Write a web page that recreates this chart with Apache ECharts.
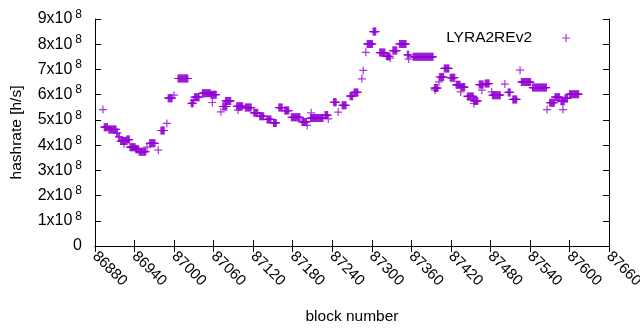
<!DOCTYPE html>
<html>
<head>
<meta charset="utf-8">
<script src="https://cdn.jsdelivr.net/npm/echarts@6/dist/echarts.min.js"></script>
<style>
  html, body { margin: 0; padding: 0; background: #fff; }
  #mychart { width: 640px; height: 330px; }
</style>
</head>
<body>
<div id="mychart"></div>
<script>
var domchart = document.getElementById("mychart");
var mycolor = '#9400D3';

// runs of blocks that share the same hashrate estimate (x10^8 h/s)
var blockFrom = [86892, 86894, 86901, 86913, 86916, 86919, 86924, 86928, 86933, 86942,
                 86947, 86959, 86963, 86976, 86980, 86989, 86991, 87000, 87006, 87026,
                 87030, 87031, 87043, 87056, 87058, 87071, 87074, 87078, 87097, 87095,
                 87108, 87121, 87130, 87141, 87151, 87159, 87168, 87178, 87194, 87202,
                 87208, 87207, 87229, 87234, 87249, 87242, 87255, 87267, 87273, 87285,
                 87287, 87291, 87293, 87302, 87312, 87322, 87328, 87332, 87342, 87354,
                 87356, 87363, 87396, 87395, 87402, 87403, 87410, 87419, 87428, 87435,
                 87436, 87445, 87455, 87455, 87463, 87467, 87472, 87482, 87483, 87502,
                 87507, 87514, 87525, 87527, 87544, 87566, 87570, 87578, 87587, 87590,
                 87593, 87600];
var blockTo   = [86892, 86899, 86912, 86914, 86917, 86927, 86924, 86932, 86941, 86946,
                 86957, 86959, 86971, 86976, 86985, 86989, 86997, 87000, 87021, 87029,
                 87030, 87038, 87055, 87064, 87058, 87071, 87080, 87086, 87097, 87104,
                 87117, 87127, 87136, 87147, 87155, 87164, 87174, 87191, 87201, 87202,
                 87208, 87226, 87233, 87234, 87249, 87246, 87261, 87271, 87279, 87285,
                 87287, 87291, 87301, 87306, 87320, 87327, 87328, 87338, 87352, 87356,
                 87356, 87393, 87396, 87400, 87402, 87409, 87417, 87426, 87434, 87435,
                 87441, 87454, 87455, 87461, 87469, 87467, 87478, 87482, 87495, 87502,
                 87510, 87520, 87525, 87541, 87565, 87566, 87577, 87585, 87592, 87590,
                 87597, 87614];
var rateE8    = [5.41, 4.71, 4.62, 4.48, 4.33, 4.16, 4.04, 4.22, 3.92, 3.84,
                 3.74, 3.92, 4.07, 3.80, 4.58, 4.86, 5.86, 5.98, 6.64, 5.66,
                 5.78, 5.90, 6.06, 6.00, 5.69, 5.32, 5.53, 5.75, 5.39, 5.54,
                 5.49, 5.28, 5.14, 5.02, 4.88, 5.49, 5.37, 5.10, 4.92, 4.78,
                 5.28, 5.07, 5.19, 5.04, 5.31, 5.70, 5.58, 5.94, 6.09, 6.63,
                 6.96, 7.68, 8.01, 8.50, 7.67, 7.52, 7.45, 7.75, 8.01, 7.58,
                 7.41, 7.50, 6.18, 6.26, 6.51, 6.70, 7.04, 6.67, 6.39, 6.11,
                 6.30, 5.93, 5.65, 5.75, 6.40, 6.18, 6.44, 6.11, 5.98, 6.42,
                 6.09, 5.81, 6.97, 6.50, 6.28, 5.41, 5.68, 5.90, 5.74, 5.41,
                 5.85, 6.02];

var seriesName = 'LYRA2REv2';
// gnuplot style "+" point
var plusIcon = 'path://M3.4,0h1.2v3.4h3.4v1.2h-3.4v3.4h-1.2v-3.4h-3.4v-1.2h3.4z';

var points = [];
for (var i = 0; i < blockFrom.length; i++) {
    for (var b = blockFrom[i]; b <= blockTo[i]; b++) {
        points.push([b, rateE8[i]]);
    }
}

var axisFont = 'Liberation Sans, Arial, sans-serif';
var blackLine = { show: true, lineStyle: { color: '#000', width: 1 } };
var inTick = { show: true, inside: true, length: 6, lineStyle: { color: '#000' } };

option = {
    animation: false,
    textStyle: { fontFamily: axisFont },
    grid: { left: 95, right: 31, top: 19, bottom: 84, containLabel: false, outerBoundsMode: 'none' },
    legend: {
        right: 65,
        top: 25,
        align: 'right',
        itemWidth: 8,
        itemHeight: 8,
        icon: plusIcon,
        data: [seriesName],
        textStyle: { fontSize: 15.5, color: '#000', padding: [0, 25, 0, 0] }
    },
    xAxis: [{
        type: 'value',
        min: 86880,
        max: 87660,
        interval: 60,
        position: 'bottom',
        name: 'block number',
        nameLocation: 'middle',
        nameGap: 63,
        nameTextStyle: { fontSize: 15.5, color: '#000' },
        axisLine: blackLine,
        axisTick: inTick,
        splitLine: { show: false },
        axisLabel: {
            rotate: -45, fontSize: 15, color: '#000', margin: 8,
            formatter: function (v) { return String(v); }
        }
    }, {
        type: 'value',
        min: 86880,
        max: 87660,
        interval: 60,
        position: 'top',
        axisLine: blackLine,
        axisTick: inTick,
        splitLine: { show: false },
        axisLabel: { show: false }
    }],
    yAxis: [{
        type: 'value',
        min: 0,
        max: 9,
        interval: 1,
        position: 'left',
        name: 'hashrate [h/s]',
        nameLocation: 'middle',
        nameGap: 70,
        nameRotate: 90,
        nameTextStyle: { fontSize: 15.5, color: '#000' },
        axisLine: blackLine,
        axisTick: inTick,
        splitLine: { show: false },
        axisLabel: {
            color: '#000',
            fontSize: 16,
            margin: 13,
            formatter: function (v) {
                return v === 0 ? '0' : v + 'x10{s|8}';
            },
            rich: {
                s: { fontSize: 12, color: '#000', padding: [0, 0, 9, 3] }
            }
        }
    }, {
        type: 'value',
        min: 0,
        max: 9,
        interval: 1,
        position: 'right',
        axisLine: blackLine,
        axisTick: inTick,
        splitLine: { show: false },
        axisLabel: { show: false }
    }],
    series: [{
        name: seriesName,
        type: 'scatter',
        symbol: plusIcon,
        symbolSize: 8,
        silent: true,
        itemStyle: { color: mycolor },
        data: points
    }]
};

var chart_scatter = echarts.init(domchart);
chart_scatter.setOption(option, true);
</script>
</body>
</html>
